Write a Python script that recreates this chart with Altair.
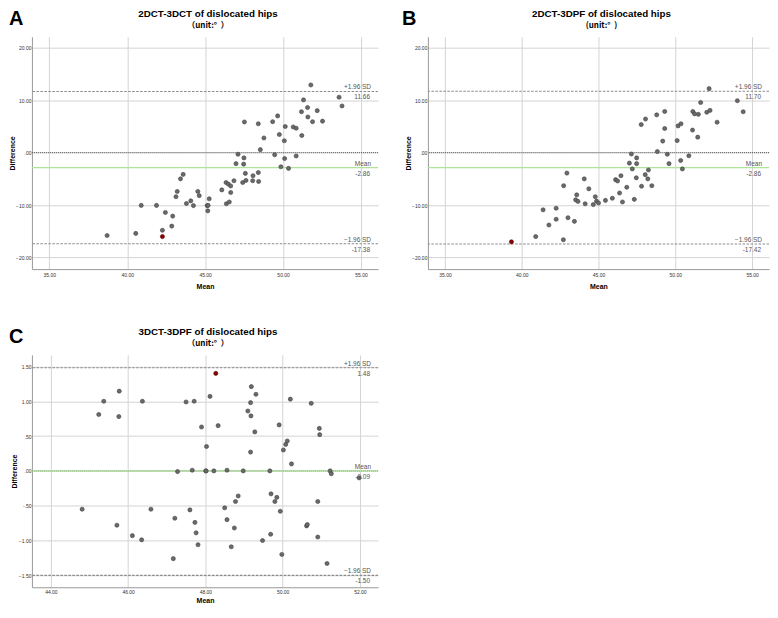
import altair as alt
import pandas as pd

# ---------------- Panel A: 2DCT-3DCT ----------------
a_mean = [38.71, 40.55, 40.90, 41.88, 42.45, 42.26, 42.26, 42.86, 42.92, 43.13,
          43.21, 43.42, 43.59, 43.80, 44.08, 44.25, 44.53, 44.62, 45.13, 45.19,
          45.17, 45.26, 46.07, 46.34, 46.36, 46.49, 46.55, 46.64, 46.64, 46.85,
          46.98, 47.11, 47.41, 47.47, 47.49, 47.52, 47.58, 47.62, 48.05, 48.07,
          48.41, 48.43, 48.41, 48.54, 48.77, 49.33, 49.46, 49.65, 49.76, 49.86,
          50.08, 50.10, 50.14, 50.35, 50.65, 50.84, 50.84, 51.20, 51.18, 51.31,
          51.57, 51.59, 51.78, 51.89, 52.19, 52.53, 53.59, 53.78]
a_diff = [-15.8, -15.4, -10.06, -10.06, -11.4, -14.8, -16.0, -14.0, -12.1, -8.4,
          -7.4, -5.0, -4.15, -9.7, -9.2, -10.1, -7.4, -8.2, -10.1, -10.06,
          -11.1, -8.8, -7.1, -5.7, -9.75, -6.0, -9.4, -6.35, -7.6, -5.35,
          -2.1, -0.3, -5.7, -2.2, -1.0, 5.85, -3.96, -5.3, -5.35, -4.4,
          -3.8, -5.5, 5.5, 0.57, 2.8, 5.9, -0.4, 7.0, 3.45, -2.7,
          2.26, -1.13, 4.97, -3.0, 4.9, 4.65, -0.63, 3.27, 7.8, 10.06,
          8.6, 6.8, 12.9, 5.9, 8.0, 6.0, 10.57, 8.9]
a_red = 6
a_limits = [11.66, -2.86, -17.38]
a_limit_text = ["11.66", "-2.86", "-17.38"]

# ---------------- Panel B: 2DCT-3DPF ----------------
b_mean = [39.33, 40.91, 41.39, 41.77, 42.24, 42.24, 42.71, 42.73, 42.94, 43.01,
          43.43, 43.51, 43.58, 43.66, 44.07, 44.13, 44.37, 44.66, 44.79, 44.87,
          45.00, 45.45, 45.90, 46.11, 46.24, 46.37, 46.46, 46.56, 46.84, 47.01,
          47.14, 47.20, 47.33, 47.48, 47.48, 47.46, 47.78, 47.80, 48.06, 48.04,
          48.21, 48.25, 48.47, 48.79, 48.83, 49.18, 49.31, 49.31, 49.48, 49.59,
          50.12, 50.18, 50.35, 50.37, 50.46, 50.88, 51.12, 51.14, 51.25, 51.46,
          51.50, 51.65, 52.05, 52.20, 52.26, 52.72, 54.04, 54.42]
b_diff = [-17.0, -16.0, -10.9, -13.8, -10.6, -12.7, -16.6, -6.3, -3.9, -12.4,
          -13.1, -9.0, -8.05, -9.3, -5.0, -9.75, -6.9, -9.9, -8.4, -9.25,
          -9.6, -9.1, -8.7, -5.15, -5.4, -7.7, -4.4, -9.4, -6.6, -2.0,
          -0.25, -3.1, -8.9, -1.0, -2.1, -4.8, 5.35, -6.4, 6.4, -4.2,
          -5.0, -3.3, -6.3, 7.2, 0.2, 2.2, 7.85, 4.6, -0.3, -2.1,
          2.3, 5.1, -1.5, 5.5, -3.1, -0.6, 4.3, 7.85, 7.4, 2.95,
          7.3, 9.55, 7.7, 12.2, 8.05, 5.8, 9.9, 7.8]
b_red = 0
b_limits = [11.70, -2.86, -17.42]
b_limit_text = ["11.70", "-2.86", "-17.42"]

# ---------------- Panel C: 3DCT-3DPF ----------------
c_mean = [44.81, 45.24, 45.37, 45.71, 45.76, 45.77, 46.11, 46.35, 46.37, 46.59,
          47.17, 47.21, 47.28, 47.50, 47.60, 47.66, 47.71, 47.73, 47.76, 47.81,
          47.90, 48.01, 48.02, 48.03, 48.12, 48.22, 48.27, 48.33, 48.50, 48.56,
          48.56, 48.67, 48.75, 48.78, 48.85, 48.98, 49.10, 49.17, 49.18, 49.17,
          49.19, 49.28, 49.31, 49.48, 49.67, 49.69, 49.70, 49.80, 49.85, 49.91,
          49.94, 49.98, 50.02, 50.08, 50.12, 50.20, 50.23, 50.62, 50.64, 50.74,
          50.91, 50.91, 50.95, 50.96, 51.15, 51.23, 51.26, 51.98]
c_diff = [-0.55, 0.81, 1.00, -0.78, 0.78, 1.145, -0.93, -0.99, 1.00, -0.55,
          -1.26, -0.68, -0.01, 0.99, -0.56, 0.01, 1.00, -0.74, -0.89, -1.06,
          0.63, 0.00, 0.00, 0.35, 1.07, 0.00, 1.40, 0.65, -0.53, 0.01,
          -0.70, -1.09, -0.82, -0.44, -0.36, 0.00, 0.86, 0.98, 0.79, 0.27,
          1.21, 0.56, 1.10, -1.00, 0.00, -0.91, -0.33, -0.44, -0.38, 0.66,
          -0.58, -1.20, 0.30, 0.38, 0.43, 1.03, 0.10, -0.79, -0.77, 0.97,
          -0.44, -0.95, 0.61, 0.52, -1.33, 0.00, -0.04, -0.10]
c_red = 26
c_limits = [1.48, 0.0, -1.50]
c_limit_text = ["1.48", "-0.09", "-1.50"]

ab_xticks = [35, 40, 45, 50, 55]
ab_yticks = [-20, -10, 0, 10, 20]
c_xticks = [44, 46, 48, 50, 52]
c_yticks = [-1.5, -1.0, -0.5, 0, 0.5, 1.0, 1.5]

FONT = "Liberation Sans"
CJK = "'Noto Sans CJK SC', 'Noto Sans CJK JP', sans-serif"
LABEL_EXPR = ("datum.value == 0 ? '.00' : (abs(datum.value) < 1 ? "
              "(datum.value < 0 ? '-' : '') + slice(format(abs(datum.value), '.2f'), 1) : "
              "format(datum.value, '.2f'))")


def panel(letter, title, subtitle, means, diffs, red, limits, limit_text,
          xticks, yticks, xdom, ydom, letter_dx, W, H, xlp, xtp):
    df = pd.DataFrame({"m": means, "d": diffs})
    df["red"] = [i == red for i in range(len(means))]
    xs = alt.Scale(domain=xdom, nice=False, zero=False)
    ys = alt.Scale(domain=ydom, nice=False, zero=False)
    xax = alt.Axis(values=xticks, labelExpr="format(datum.value, '.2f')", title="Mean",
                   labelPadding=xlp, titlePadding=xtp)
    yax = alt.Axis(values=yticks, labelExpr=LABEL_EXPR, title="Difference")

    def X(f):
        return alt.X(f, type="quantitative", scale=xs, axis=xax)

    def Y(f):
        return alt.Y(f, type="quantitative", scale=ys, axis=yax)

    gray = alt.Chart(df[~df["red"]]).mark_point(
        filled=True, size=17, color="#6a6a6a", stroke="#3f3f3f", strokeWidth=0.6, opacity=1
    ).encode(x=X("m"), y=Y("d"))
    redpt = alt.Chart(df[df["red"]]).mark_point(
        filled=True, size=17, color="#8b0000", stroke="#5a0000", strokeWidth=0.6, opacity=1
    ).encode(x=X("m"), y=Y("d"))

    zero = alt.Chart(pd.DataFrame({"v": [0.0]}))
    sd = alt.Chart(pd.DataFrame({"v": [limits[0], limits[2]]}))
    mn = alt.Chart(pd.DataFrame({"v": [limits[1]]}))
    mean_rule = mn.mark_rule(color="#ade39a", strokeWidth=1.4).encode(y=Y("v"))
    zero_rule = zero.mark_rule(color="#555555", strokeWidth=1, strokeDash=[1, 1]).encode(y=Y("v"))
    sd_rule = sd.mark_rule(color="#8a8a8a", strokeWidth=1.1, strokeDash=[2.5, 1.5]).encode(y=Y("v"))

    above = alt.Chart(pd.DataFrame({"v": limits, "t": ["+1.96 SD", "Mean", "\u22121.96 SD"]}))
    below = alt.Chart(pd.DataFrame({"v": limits, "t": limit_text}))
    above_t = above.mark_text(align="right", baseline="bottom", dy=-1, fontSize=6.5,
                              color="#555555", font=FONT).encode(
        y=Y("v"), x=alt.value(W - 7), text="t:N")
    below_t = below.mark_text(align="right", baseline="top", dy=3, fontSize=6.5,
                              color="#555555", font=FONT).encode(
        y=Y("v"), x=alt.value(W - 8), text="t:N")

    let = alt.Chart(pd.DataFrame({"t": [letter]})).mark_text(
        align="left", baseline="alphabetic", fontSize=20, fontWeight="bold",
        font=FONT, color="black").encode(
        text="t:N", x=alt.value(letter_dx), y=alt.value(-12))

    t1 = alt.Chart(pd.DataFrame({"t": [title]})).mark_text(
        align="center", baseline="middle", fontSize=9.8, fontWeight="bold",
        font=FONT, color="black").encode(
        text="t:N", x=alt.value(W / 2 + 3), y=alt.value(-23))
    t2 = alt.Chart(pd.DataFrame({"t": [subtitle]})).mark_text(
        align="center", baseline="middle", fontSize=8, fontWeight="bold",
        font=CJK, color="black").encode(
        text="t:N", x=alt.value(W / 2 + 3), y=alt.value(-11))

    return alt.layer(zero_rule, mean_rule, sd_rule, gray, redpt, above_t, below_t,
                     let, t1, t2).properties(width=W, height=H)


NB = "\u00a0"
A = panel("A", "2DCT-3DCT of dislocated hips", "\uff08unit:\u00b0" + NB + NB + "\uff09",
          a_mean, a_diff, a_red, a_limits, a_limit_text,
          ab_xticks, ab_yticks, [33.89, 56.09], [-22.2, 22.1], -23, 347, 233, 3, 5)
B = panel("B", "2DCT-3DPF of dislocated hips", "(unit:\u00b0" + NB + NB + ")",
          b_mean, b_diff, b_red, b_limits, b_limit_text,
          ab_xticks, ab_yticks, [33.89, 56.1], [-22.2, 22.1], -26, 342, 233, 3, 5)
C = panel("C", "3DCT-3DPF of dislocated hips", "\uff08unit:\u00b0" + NB + NB + "\uff09",
          c_mean, c_diff, c_red, c_limits, c_limit_text,
          c_xticks, c_yticks, [43.51, 52.47], [-1.671, 1.666], -23, 347, 233, 2, 2)

chart = alt.concat(A, B, C, columns=2, spacing={"row": 86, "column": 50},
                   bounds="flush", align="each").properties(
    padding={"left": 0, "top": 0, "right": 0, "bottom": 0}
).configure_view(stroke=None).configure_axis(
    grid=True, gridColor="#d4d4d4", gridWidth=1,
    domain=True, domainColor="#9a9a9a", domainWidth=1,
    ticks=False, labelFont=FONT, labelFontSize=5, labelColor="#333333",
    titleFont=FONT, titleFontSize=7, titleFontWeight="bold",
    titleColor="black",
).configure_axisY(titlePadding=0.5, labelPadding=1)

chart.save("out.html", embed_options={"renderer": "svg", "actions": False})
